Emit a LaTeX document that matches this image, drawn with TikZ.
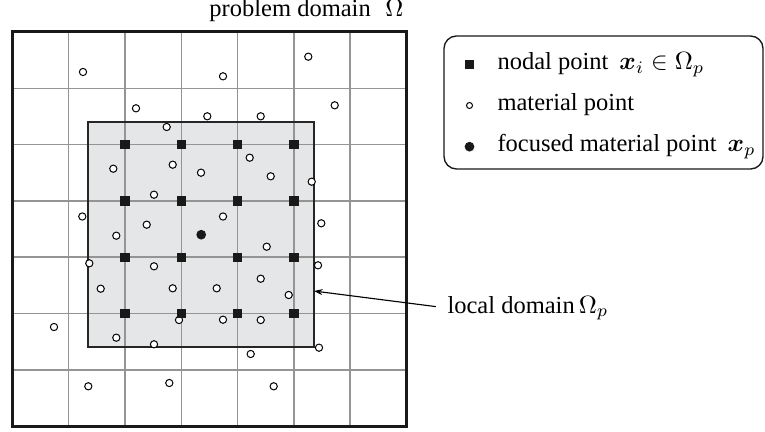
\documentclass[tikz,border=0pt]{standalone}
\usepackage[no-math]{fontspec}
\setmainfont{Liberation Serif}
\usepackage{bm}
\usetikzlibrary{calc,arrows.meta}
\definecolor{localfill}{RGB}{229,230,232}
\begin{document}
\begin{tikzpicture}[x=0.4pt,y=-0.4pt,
  every node/.style={font=\fontsize{9.8pt}{12pt}\selectfont},
  gridline/.style={draw=black!42,line width=0.6pt},
  outerbox/.style={draw=black!90,line width=1.2pt,inner sep=0},
  localfillbox/.style={fill=localfill,inner sep=0,outer sep=0},
  localborder/.style={draw=black!85,line width=0.85pt},
  legendbox/.style={draw=black!90,line width=0.55pt,rounded corners=5pt,inner sep=0},
  matpt/.style={circle,draw=black,fill=white,line width=0.4pt,inner sep=0,minimum size=2.9pt},
  nodpt/.style={rectangle,fill=black!90,inner sep=0,minimum size=3.7pt},
  focpt/.style={circle,fill=black!90,inner sep=0,minimum size=3.9pt},
  lbl/.style={inner sep=0},
  pointer/.style={-{Stealth[length=3.4pt,width=2.4pt]},line width=0.45pt}
]
\useasboundingbox (0,0) rectangle (765,432);
% local domain fill
\node[localfillbox,minimum width=90.28pt,minimum height=90.12pt] (local) at (201.2,234.7) {};
% grid
\foreach \k in {1,...,6}{
  \draw[gridline] ({12.4+56.3*\k},32) -- ({12.4+56.3*\k},426.3);
  \draw[gridline] (12.4,{32+56.3*\k}) -- (406.5,{32+56.3*\k});
}
% local domain border
\draw[localborder] (local.north west) rectangle (local.south east);
% problem domain
\node[outerbox,minimum width=157.64pt,minimum height=157.72pt] (domain) at (209.45,229.15) {};
\node[lbl,anchor=base east] (title) at (404,17) {problem domain\hspace{0.6em}$\Omega$};
% material points
\foreach \x/\y [count=\i] in {83/72,223/76.3,308.3/56.7,136/108.3,207.3/116.3,260.7/116.3,334.7/105.3,
  166.7/127,113.3/168.7,172.7/164.7,201/172.7,249.7/157.7,270.7/176.3,311.7/181.7,154/194.7,
  82.3/216.5,223/216.5,146.7/224.7,116.3/235.7,321.3/223.3,266.7/246.7,89.3/263.3,154/266.3,
  318/265.3,100.7/288.7,172.7/288.3,216.7/288.3,260.7/278.7,288.7/295,54/327,179/320,223/319.7,
  260.7/320,116.3/337.7,154/344.3,319/347.7,250.7/354,88.3/386.3,169.3/383,273.7/386.3}
  \node[matpt] (m\i) at (\x,\y) {};
% nodal points
\foreach \i in {2,...,5}{
  \foreach \j in {2,...,5}{
    \node[nodpt] (n\i\j) at ({12.4+56.3*\i},{32+56.3*\j}) {};
  }
}
% focused material point
\node[focpt] (xp) at (local.center) {};
% legend
\node[legendbox,minimum width=127.6pt,minimum height=53.2pt] (legend) at (603.5,102.5) {};
\node[nodpt,minimum size=3.5pt] (ls) at (469.5,64.5) {};
\node[matpt,minimum size=2.4pt] (lm) at (469.5,105.5) {};
\node[focpt,minimum size=3.9pt] (lf) at (469.5,146.7) {};
\node[lbl,anchor=base west] (t1) at (497,69.5) {nodal point\hspace{0.45em}$\bm{x}_i\in\Omega_p$};
\node[lbl,anchor=base west] (t2) at (497,110.5) {material point};
\node[lbl,anchor=base west] (t3) at (497,152) {focused material point\hspace{0.45em}$\bm{x}_p$};
% local domain label
\node[lbl,anchor=base west] (loc) at (447,313) {local domain\,$\Omega_p$};
\coordinate (tip) at ($(local.north east)!0.75!(local.south east)$);
\draw[pointer,shorten <=4.5pt] (loc.west) -- (tip);
\end{tikzpicture}
\end{document}
